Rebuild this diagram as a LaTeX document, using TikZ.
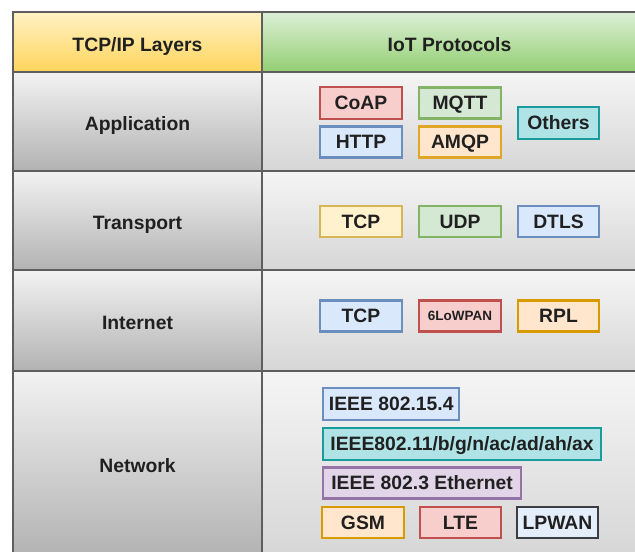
\documentclass[tikz,border=0pt]{standalone}
\usepackage{fontspec}
\setmainfont{Liberation Sans}
\definecolor{gridc}{HTML}{5E5E5E}
\definecolor{redS}{HTML}{C0504D}\definecolor{redF}{HTML}{F8CECC}
\definecolor{grnS}{HTML}{82B366}\definecolor{grnF}{HTML}{D5E8D4}
\definecolor{bluS}{HTML}{6C8EBF}\definecolor{bluF}{HTML}{DAE8FC}
\definecolor{yelS}{HTML}{D6B656}\definecolor{yelF}{HTML}{FFF2CC}
\definecolor{ornS}{HTML}{D79B00}\definecolor{ornF}{HTML}{FFE6CC}
\definecolor{amqS}{HTML}{E0A626}
\definecolor{tealS}{HTML}{1A9C9C}\definecolor{tealF}{HTML}{B0E3E6}
\definecolor{purS}{HTML}{9673A6}\definecolor{purF}{HTML}{E1D5E7}
\definecolor{darkS}{HTML}{3A3D42}\definecolor{ltbF}{HTML}{E4EEFA}
\definecolor{txt}{HTML}{202020}
\begin{document}
\begin{tikzpicture}[x=0.03cm,y=-0.03cm,
  every node/.style={font=\fontsize{16.5}{18}\selectfont\bfseries, text=txt,
     text height=11.8pt, text depth=0pt},
  cell/.style 2 args={draw=gridc, line width=2pt, inner sep=0pt, outer sep=0pt,
     minimum width=#1*0.03cm, minimum height=#2*0.03cm, text height=15.8pt},
  lcell/.style={top color=black!5, bottom color=black!30},
  rcell/.style={top color=black!4, bottom color=black!16},
  pbox/.style n args={4}{draw=#1, fill=#2, line width=1.8pt, inner sep=0pt,
     minimum width=#3*0.03cm, minimum height=#4*0.03cm},
  wbox/.style n args={4}{draw=#1, fill=#2, line width=1.8pt, inner xsep=5pt, inner ysep=0pt,
     minimum width=#3*0.03cm, minimum height=#4*0.03cm, anchor=west}
]
\useasboundingbox (0,0) rectangle (635,551);
\fill[white] (0,0) rectangle (635,551);
% table cells
\node[cell={249}{60}, top color={rgb,255:red,255;green,242;blue,196}, bottom color={rgb,255:red,255;green,212;blue,92}] (hl) at (137.5,42) {TCP/IP Layers};
\node[cell={375}{60}, top color={rgb,255:red,220;green,239;blue,214}, bottom color={rgb,255:red,147;green,207;blue,114}] (hr) at (449.5,42) {IoT Protocols};
\node[cell={249}{99}, lcell] (app) at (137.5,121.5) {Application};
\node[cell={375}{99}, rcell] (appr) at (449.5,121.5) {};
\node[cell={249}{99}, lcell] (tra) at (137.5,220.5) {Transport};
\node[cell={375}{99}, rcell] (trar) at (449.5,220.5) {};
\node[cell={249}{101}, lcell] (int) at (137.5,320.5) {Internet};
\node[cell={375}{101}, rcell] (intr) at (449.5,320.5) {};
\node[cell={249}{185}, lcell] (net) at (137.5,463.5) {Network};
\node[cell={375}{185}, rcell] (netr) at (449.5,463.5) {};
% application protocols
\node[pbox={redS}{redF}{82}{32}] (coap) at (361,103) {CoAP};
\node[pbox={grnS}{grnF}{82}{31}] (mqtt) at (460,103) {MQTT};
\node[pbox={bluS}{bluF}{82}{31}] (http) at (361,142) {HTTP};
\node[pbox={amqS}{ornF}{82}{31}] (amqp) at (460,142) {AMQP};
\node[pbox={tealS}{tealF}{81}{32}] (others) at (558.5,123) {Others};
% transport
\node[pbox={yelS}{yelF}{82}{31}] (tcp1) at (361,221.5) {TCP};
\node[pbox={grnS}{grnF}{82}{31}] (udp) at (460,221.5) {UDP};
\node[pbox={bluS}{bluF}{81}{31}] (dtls) at (558.5,221.5) {DTLS};
% internet
\node[pbox={bluS}{bluF}{82}{31}] (tcp2) at (361,316) {TCP};
\node[pbox={redS}{redF}{82}{31}, font=\fontsize{11.5}{13}\selectfont\bfseries, text height=8.3pt] (lowpan) at (460,316) {6LoWPAN};
\node[pbox={ornS}{ornF}{81}{31}] (rpl) at (558.5,316) {RPL};
% network
\node[wbox={bluS}{bluF}{136}{32}] (ieee154) at (322,404) {IEEE 802.15.4};
\node[wbox={tealS}{tealF}{278}{32}, inner xsep=2pt] (ieee11) at (322,444) {IEEE802.11/b/g/n/ac/ad/ah/ax};
\node[wbox={purS}{purF}{198}{31}] (ieee3) at (322,483) {IEEE 802.3 Ethernet};
\node[pbox={ornS}{ornF}{82}{31}] (gsm) at (363,522.5) {GSM};
\node[pbox={redS}{redF}{81}{31}] (lte) at (460.5,522.5) {LTE};
\node[pbox={darkS}{ltbF}{81}{31}] (lpwan) at (557.5,522.5) {LPWAN};
\end{tikzpicture}
\end{document}
